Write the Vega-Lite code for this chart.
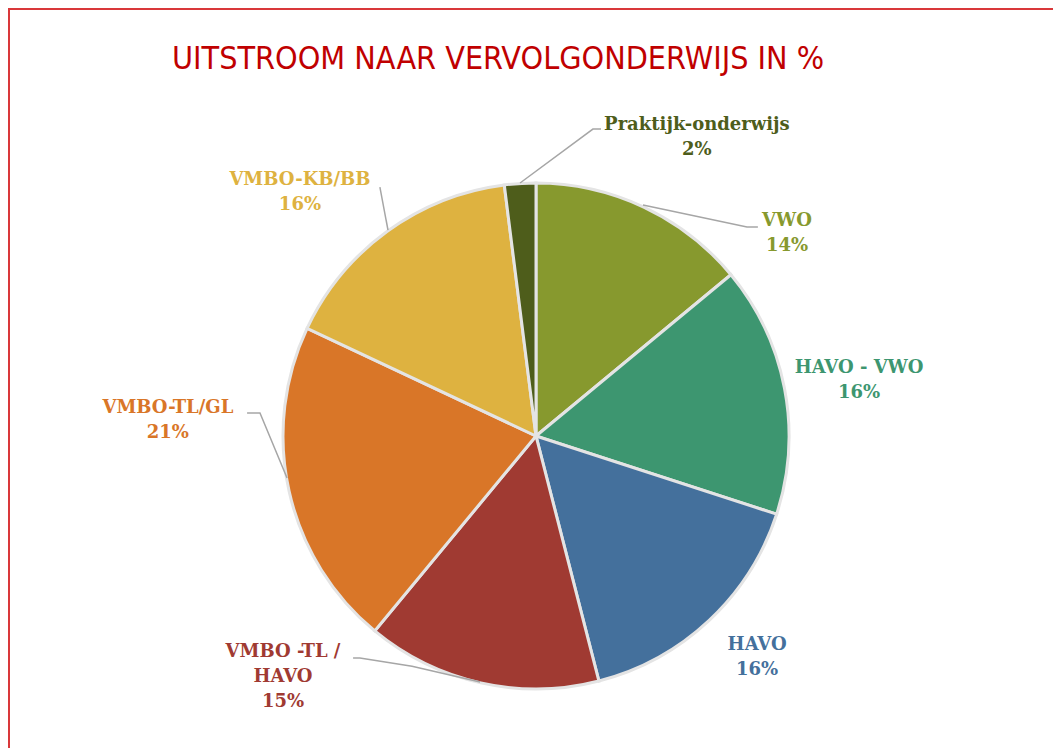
{
  "$schema": "https://vega.github.io/schema/vega-lite/v6.json",
  "autosize": {"type": "none"},
  "width": 1054,
  "height": 854,
  "padding": {"left": 9, "top": 9, "right": -10, "bottom": -115},
  "background": "white",
  "title": {
    "text": "UITSTROOM NAAR VERVOLGONDERWIJS IN %",
    "anchor": "start",
    "frame": "group",
    "dx": 163,
    "offset": -92,
    "baseline": "alphabetic",
    "font": "Liberation Sans Narrow, DejaVu Sans Condensed, sans-serif",
    "fontSize": 32,
    "fontWeight": "normal",
    "color": "#C00000"
  },
  "config": {
    "view": {"stroke": "#D9383A", "strokeWidth": 2},
    "axis": {"grid": false}
  },
  "datasets": {
    "slices": [
      {"cat": "VWO", "value": 14, "ord": 1, "label": "VWO\n14%", "lx": 0.992, "ly": 0.850},
      {"cat": "HAVO - VWO", "value": 16, "ord": 2, "label": "HAVO - VWO\n16%", "lx": 1.277, "ly": 0.267},
      {"cat": "HAVO", "value": 16, "ord": 3, "label": "HAVO\n16%", "lx": 0.874, "ly": -0.826},
      {"cat": "VMBO -TL / HAVO", "value": 15, "ord": 4, "label": "VMBO -TL /\nHAVO\n15%", "lx": -1.0, "ly": -0.854},
      {"cat": "VMBO-TL/GL", "value": 21, "ord": 5, "label": "VMBO-TL/GL\n21%", "lx": -1.455, "ly": 0.109},
      {"cat": "VMBO-KB/BB", "value": 16, "ord": 6, "label": "VMBO-KB/BB\n16%", "lx": -0.933, "ly": 1.012},
      {"cat": "Praktijk-onderwijs", "value": 2, "ord": 7, "label": "Praktijk-onderwijs\n2%", "lx": 0.636, "ly": 1.229}
    ],
    "leaders": [
      {"line": "Praktijk", "i": 1, "lx": 0.257, "ly": 1.213},
      {"line": "Praktijk", "i": 2, "lx": 0.225, "ly": 1.213},
      {"line": "Praktijk", "i": 3, "lx": -0.063, "ly": 1.0},
      {"line": "VWO", "i": 1, "lx": 0.877, "ly": 0.826},
      {"line": "VWO", "i": 2, "lx": 0.834, "ly": 0.826},
      {"line": "VWO", "i": 3, "lx": 0.423, "ly": 0.913},
      {"line": "KBBB", "i": 1, "lx": -0.617, "ly": 0.984},
      {"line": "KBBB", "i": 2, "lx": -0.585, "ly": 0.814},
      {"line": "TLGL", "i": 1, "lx": -1.142, "ly": 0.091},
      {"line": "TLGL", "i": 2, "lx": -1.091, "ly": 0.091},
      {"line": "TLGL", "i": 3, "lx": -0.984, "ly": -0.166},
      {"line": "TLHAVO", "i": 1, "lx": -0.723, "ly": -0.877},
      {"line": "TLHAVO", "i": 2, "lx": -0.696, "ly": -0.877},
      {"line": "TLHAVO", "i": 3, "lx": -0.49, "ly": -0.91},
      {"line": "TLHAVO", "i": 4, "lx": -0.221, "ly": -0.972}
    ]
  },
  "layer": [
    {
      "data": {"name": "slices"},
      "mark": {"type": "arc", "radius": 253, "stroke": "#E4E4E4", "strokeWidth": 3},
      "encoding": {
        "theta": {"field": "value", "type": "quantitative", "stack": true},
        "order": {"field": "ord", "type": "quantitative", "sort": "ascending"},
        "color": {
          "field": "cat",
          "type": "nominal",
          "legend": null,
          "scale": {
            "domain": ["VWO", "HAVO - VWO", "HAVO", "VMBO -TL / HAVO", "VMBO-TL/GL", "VMBO-KB/BB", "Praktijk-onderwijs"],
            "range": ["#87992E", "#3D9670", "#44709C", "#A03A32", "#D97628", "#DEB240", "#4E5D1B"]
          }
        }
      }
    },
    {
      "data": {"name": "leaders"},
      "mark": {"type": "line", "color": "#A6A6A6", "strokeWidth": 1.5},
      "encoding": {
        "x": {"field": "lx", "type": "quantitative", "axis": null, "scale": {"domain": [-2.083, 2.083], "nice": false, "zero": false}},
        "y": {"field": "ly", "type": "quantitative", "axis": null, "scale": {"domain": [-1.6877, 1.6877], "nice": false, "zero": false}},
        "detail": {"field": "line"},
        "order": {"field": "i", "type": "quantitative"}
      }
    },
    {
      "data": {"name": "slices"},
      "mark": {
        "type": "text",
        "font": "DejaVu Serif",
        "fontWeight": "bold",
        "fontSize": 18,
        "lineHeight": 25,
        "lineBreak": "\n",
        "align": "center",
        "baseline": "middle"
      },
      "encoding": {
        "x": {"field": "lx", "type": "quantitative"},
        "y": {"field": "ly", "type": "quantitative"},
        "text": {"field": "label"},
        "color": {"field": "cat", "type": "nominal", "legend": null}
      }
    }
  ]
}
